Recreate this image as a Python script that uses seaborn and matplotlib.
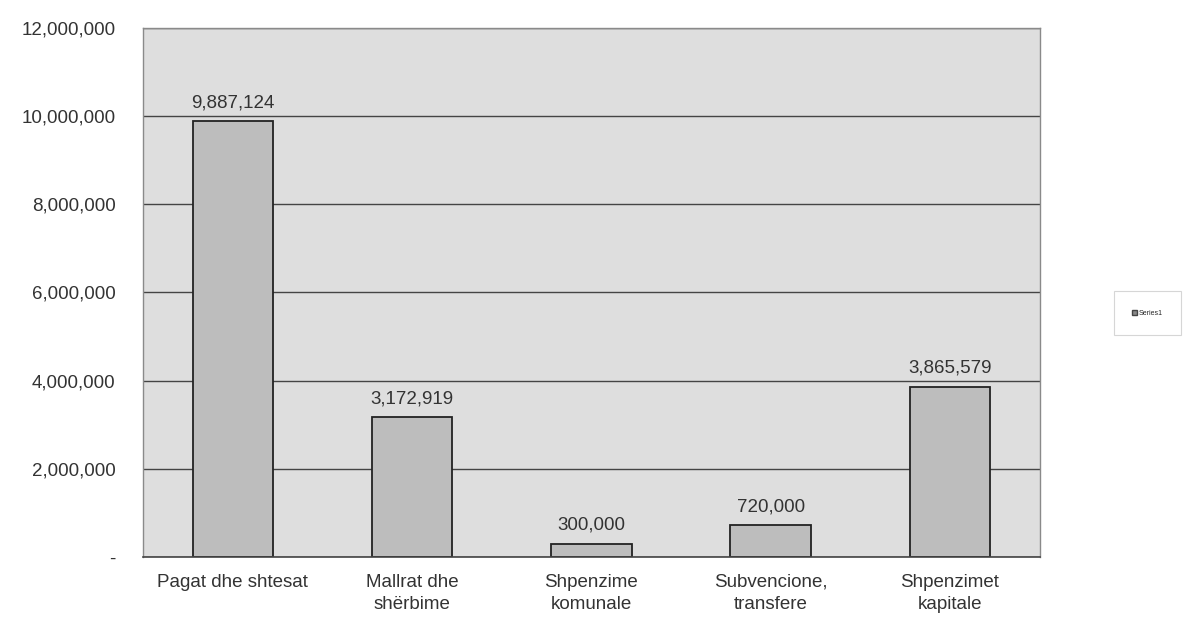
import matplotlib
matplotlib.use("Agg")
import matplotlib.pyplot as plt
import matplotlib.ticker as mticker
from matplotlib.patches import Patch
import seaborn as sns
import pandas as pd

categories = ["Pagat dhe shtesat", "Mallrat dhe\nshërbime", "Shpenzime\nkomunale",
              "Subvencione,\ntransfere", "Shpenzimet\nkapitale"]
values = [9887124, 3172919, 300000, 720000, 3865579]
series_name = "Series1"

df = pd.DataFrame({"cat": categories, "val": values})

sns.set_theme(style="white")
plt.rcParams['font.family'] = ['Liberation Sans', 'DejaVu Sans']

fig = plt.figure(figsize=(11.84, 6.35), dpi=100)
ax = fig.add_axes([0.121, 0.123, 0.757, 0.833])
ax.set_facecolor("#dedede")

sns.barplot(data=df, x="cat", y="val", ax=ax, color="#bdbdbd", width=0.45,
            edgecolor="#222222", linewidth=1.3, saturation=1)

ax.set_ylim(0, 12000000)
ax.set_yticks(range(0, 12000001, 2000000))
ax.yaxis.set_major_formatter(mticker.FuncFormatter(lambda v, p: "-" if v == 0 else f"{int(v):,}"))
ax.grid(axis="y", color="#444444", linewidth=1.0)
ax.set_axisbelow(True)
ax.set_xlabel("")
ax.set_ylabel("")
ax.tick_params(axis="y", labelsize=13.5, colors="#333333", length=0, pad=20)
ax.tick_params(axis="x", labelsize=13.5, colors="#333333", length=0, pad=12)
for lbl in ax.get_yticklabels() + ax.get_xticklabels():
    lbl.set_color("#333333")
for lbl in ax.get_xticklabels():
    lbl.set_linespacing(1.45)

for s in ["top", "right", "left"]:
    ax.spines[s].set_color("#8a8a8a")
    ax.spines[s].set_linewidth(1.0)
ax.spines["bottom"].set_color("#444444")
ax.spines["bottom"].set_linewidth(1.2)

for i, v in enumerate(values):
    ax.text(i, v + 220000, f"{v:,}", ha="center", va="bottom", fontsize=13.5, color="#333333")

handle = Patch(facecolor="#888888", edgecolor="#444444", label=series_name)
leg = fig.legend(handles=[handle], loc="center", bbox_to_anchor=(0.969, 0.507),
                 fontsize=5, frameon=True, fancybox=False, edgecolor="#cccccc",
                 handlelength=0.8, handleheight=0.8, borderpad=2.6, handletextpad=0.2,
                 borderaxespad=0)
leg.get_frame().set_linewidth(0.8)

fig.savefig("out.png", dpi=100)
